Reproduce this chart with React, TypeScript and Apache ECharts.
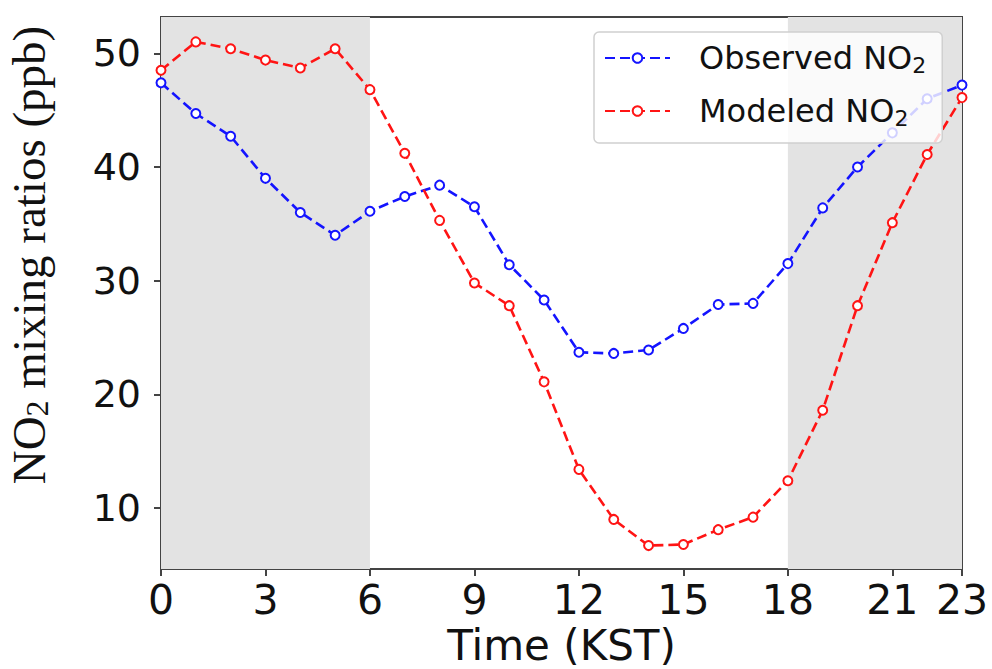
import React, { useEffect, useRef } from "react";
import * as echarts from "echarts";

const hours = [0, 1, 2, 3, 4, 5, 6, 7, 8, 9, 10, 11, 12, 13, 14, 15, 16, 17, 18, 19, 20, 21, 22, 23];
const observedNO2 = [47.4, 44.7, 42.7, 39.0, 36.0, 34.0, 36.1, 37.4, 38.4, 36.5, 31.4, 28.3, 23.7, 23.6, 23.9, 25.8, 27.9, 28.0, 31.5, 36.4, 40.0, 43.0, 46.0, 47.2];
const modeledNO2 = [48.5, 51.0, 50.4, 49.4, 48.7, 50.4, 46.8, 41.2, 35.3, 29.8, 27.8, 21.1, 13.4, 9.0, 6.7, 6.8, 8.1, 9.2, 12.4, 18.6, 27.8, 35.1, 41.1, 46.1];
const xTicks = [0, 3, 6, 9, 12, 15, 18, 21, 23];
const yTicks = [10, 20, 30, 40, 50];
const nightRanges = [[0, 6], [18, 23]];
const seriesNames = ["Observed NO2", "Modeled NO2"];

export default function App() {
  const ref = useRef<HTMLDivElement>(null);
  useEffect(() => {
    if (!ref.current) return;
    const chart = echarts.init(ref.current, null, { renderer: "svg" });
    const axisColor = "#444";
    const mk = (name: string, data: number[], color: string) => ({
      name,
      type: "line",
      data: hours.map((h, i) => [h, data[i]]),
      symbol: "emptyCircle",
      symbolSize: 9,
      showSymbol: true,
      lineStyle: { color, width: 2.6, type: [10, 5] },
      itemStyle: { color, borderColor: color, borderWidth: 2 },
      emphasis: { disabled: true },
      z: 3,
    });
    chart.setOption({
      animation: false,
      grid: {
        left: 161,
        right: 30,
        top: 17,
        bottom: 100,
        outerBoundsMode: "none",
        containLabel: false,
        show: true,
        borderColor: axisColor,
        borderWidth: 2,
        backgroundColor: "transparent",
      },
      legend: {
        left: 594,
        top: 32,
        orient: "vertical",
        data: seriesNames,
        itemWidth: 65,
        itemHeight: 12,
        itemGap: 19,
        padding: [10, 16, 14, 10],
        backgroundColor: "rgba(255,255,255,0.8)",
        borderColor: "#d0d0d0",
        borderWidth: 1.5,
        borderRadius: 5,
        formatter: (name: string) => `{t|${name.slice(0, -1)}}{s|2}`,
        textStyle: {
          padding: [0, 0, 0, 24],
          rich: {
            t: { fontFamily: "DejaVu Sans", fontSize: 32, color: "#111", lineHeight: 38 },
            s: { fontFamily: "DejaVu Sans", fontSize: 22, color: "#111", padding: [14, 0, 0, 0] },
          },
        },
      },
      xAxis: {
        type: "value",
        min: 0,
        max: 23,
        name: "Time (KST)",
        nameLocation: "middle",
        nameGap: 55,
        nameTextStyle: { fontFamily: "DejaVu Sans", fontSize: 42, lineHeight: 40, color: "#111" },
        axisLine: { show: true, onZero: false, lineStyle: { color: axisColor, width: 2 } },
        axisTick: { show: true, length: 7, customValues: xTicks, lineStyle: { color: axisColor, width: 2 } },
        axisLabel: { fontFamily: "DejaVu Sans", fontSize: 41, color: "#111", margin: 10, customValues: xTicks },
        splitLine: { show: false },
      },
      yAxis: {
        type: "value",
        min: 4.64,
        max: 53.19,
        name: "{n|NO}{s|2}{n| mixing ratios (ppb)}",
        nameLocation: "middle",
        nameRotate: 90,
        nameGap: 108,
        nameTextStyle: {
          padding: [0, 0, 0, 76],
          rich: {
            n: { fontFamily: "Liberation Serif", fontSize: 47, color: "#111" },
            s: { fontFamily: "Liberation Serif", fontSize: 32, color: "#111", padding: [16, 0, 0, 0] },
          },
        },
        axisLine: { show: true, onZero: false, lineStyle: { color: axisColor, width: 2 } },
        axisTick: { show: true, length: 7, customValues: yTicks, lineStyle: { color: axisColor, width: 2 } },
        axisLabel: { fontFamily: "DejaVu Sans", fontSize: 38, color: "#111", margin: 20, customValues: yTicks },
        splitLine: { show: false },
      },
      series: [
        {
          ...mk(seriesNames[0], observedNO2, "#1414ff"),
          markArea: {
            silent: true,
            itemStyle: { color: "#e3e3e3" },
            data: nightRanges.map(([a, b]) => [{ xAxis: a }, { xAxis: b }]),
          },
        },
        mk(seriesNames[1], modeledNO2, "#ff1414"),
      ],
    });
    return () => chart.dispose();
  }, []);
  return <div ref={ref} style={{ width: 992, height: 669, position: "absolute", left: 0, top: 0 }} />;
}
